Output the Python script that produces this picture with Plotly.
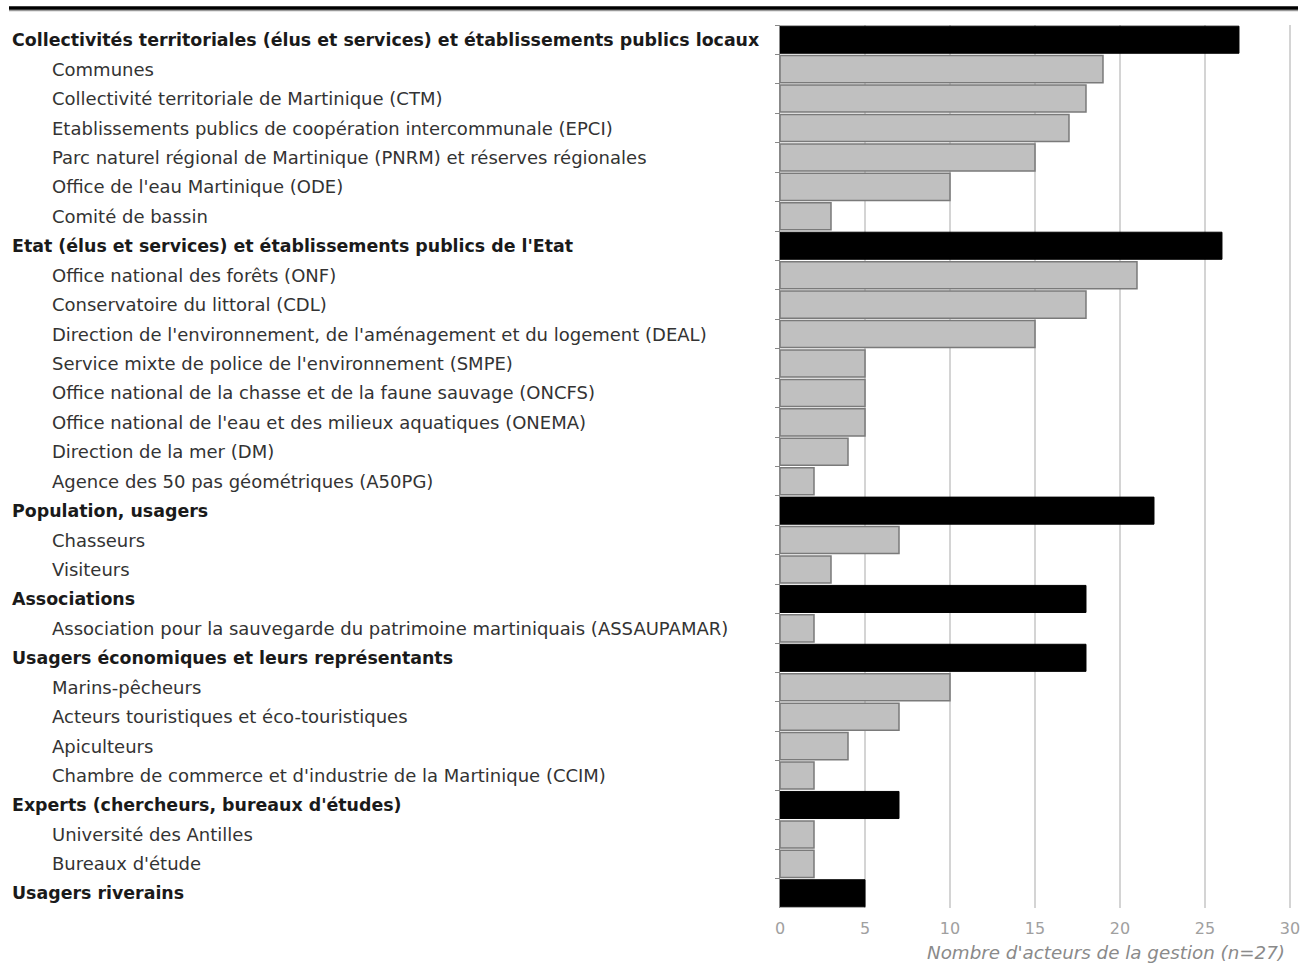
import plotly.graph_objects as go

labels = [
    "Collectivités territoriales (élus et services) et établissements publics locaux",
    "Communes",
    "Collectivité territoriale de Martinique (CTM)",
    "Etablissements publics de coopération intercommunale (EPCI)",
    "Parc naturel régional de Martinique (PNRM) et réserves régionales",
    "Office de l'eau Martinique (ODE)",
    "Comité de bassin",
    "Etat (élus et services) et établissements publics de l'Etat",
    "Office national des forêts (ONF)",
    "Conservatoire du littoral (CDL)",
    "Direction de l'environnement, de l'aménagement et du logement (DEAL)",
    "Service mixte de police de l'environnement (SMPE)",
    "Office national de la chasse et de la faune sauvage (ONCFS)",
    "Office national de l'eau et des milieux aquatiques (ONEMA)",
    "Direction de la mer (DM)",
    "Agence des 50 pas géométriques (A50PG)",
    "Population, usagers",
    "Chasseurs",
    "Visiteurs",
    "Associations",
    "Association pour la sauvegarde du patrimoine martiniquais (ASSAUPAMAR)",
    "Usagers économiques et leurs représentants",
    "Marins-pêcheurs",
    "Acteurs touristiques et éco-touristiques",
    "Apiculteurs",
    "Chambre de commerce et d'industrie de la Martinique (CCIM)",
    "Experts (chercheurs, bureaux d'études)",
    "Université des Antilles",
    "Bureaux d'étude",
    "Usagers riverains",
]
values = [27, 19, 18, 17, 15, 10, 3,
          26, 21, 18, 15, 5, 5, 5, 4, 2,
          22, 7, 3,
          18, 2,
          18, 10, 7, 4, 2,
          7, 2, 2,
          5]
is_group = [True, False, False, False, False, False, False,
            True, False, False, False, False, False, False, False, False,
            True, False, False,
            True, False,
            True, False, False, False, False,
            True, False, False,
            True]
x_ticks = [0, 5, 10, 15, 20, 25, 30]
x_title = "Nombre d'acteurs de la gestion (n=27)"

W, H = 1302, 966
L, R, T, B = 780, 1291, 25, 908
pw, ph = R - L, B - T

def px_x(px):
    return (px - L) / pw

def px_y(py):
    return 1 - (py - T) / ph

FONT = "DejaVu Sans"

fig = go.Figure()
gy = [l for l, g in zip(labels, is_group) if g]
gv = [v for v, g in zip(values, is_group) if g]
sy = [l for l, g in zip(labels, is_group) if not g]
sv = [v for v, g in zip(values, is_group) if not g]

fig.add_trace(go.Bar(x=sv, y=sy, orientation="h",
                     marker=dict(color="#c0c0c0", line=dict(color="#7a7a7a", width=1.5)),
                     width=0.92, showlegend=False))
fig.add_trace(go.Bar(x=gv, y=gy, orientation="h",
                     marker=dict(color="#000000", line=dict(color="#000000", width=1)),
                     width=0.92, showlegend=False))

annotations = []
for lab, g in zip(labels, is_group):
    annotations.append(dict(
        x=px_x(10 if g else 50), xref="paper", y=lab, yref="y",
        text=f"<b>{lab}</b>" if g else lab, showarrow=False,
        xanchor="left", yanchor="middle",
        font=dict(family=FONT, size=17.4 if g else 18, color="#1a1a1a" if g else "#333333"),
    ))
annotations.append(dict(
    x=px_x(925), xref="paper", y=px_y(953), yref="paper",
    text=f"<i>{x_title}</i>", showarrow=False, xanchor="left", yanchor="middle",
    font=dict(family=FONT, size=18.3, color="#8a8a8a"),
))

fig.update_layout(
    width=W, height=H,
    margin=dict(l=L, r=W - R, t=T, b=H - B, pad=0, autoexpand=False),
    paper_bgcolor="white", plot_bgcolor="white",
    barmode="overlay",
    annotations=annotations,
    xaxis=dict(range=[0, 30.06], tickvals=x_ticks, showgrid=True, gridcolor="#d4d4d4",
               gridwidth=2, zeroline=False, showline=False, automargin=False,
               tickfont=dict(family=FONT, size=16, color="#a0a0a0"), ticks="",
               ticklabelstandoff=9, ticklabeloverflow="allow"),
    yaxis=dict(categoryorder="array", categoryarray=labels, autorange="reversed",
               showticklabels=False, showgrid=False, zeroline=False, automargin=False,
               showline=True, linecolor="#888888", linewidth=1,
               ticks="outside", ticklen=4, tickcolor="#888888", tickson="boundaries"),
    shapes=[
        dict(type="line", xref="paper", yref="paper", x0=px_x(9), x1=px_x(1298),
             y0=px_y(10.5), y1=px_y(10.5), line=dict(color="#9a9a9a", width=1.5)),
        dict(type="line", xref="paper", yref="paper", x0=px_x(9), x1=px_x(1298),
             y0=px_y(8), y1=px_y(8), line=dict(color="black", width=3.5)),
    ],
)

fig.write_html(
    "out.html",
    config={"displayModeBar": False},
    post_script="document.body.style.margin='0';document.body.style.overflow='hidden';",
)
